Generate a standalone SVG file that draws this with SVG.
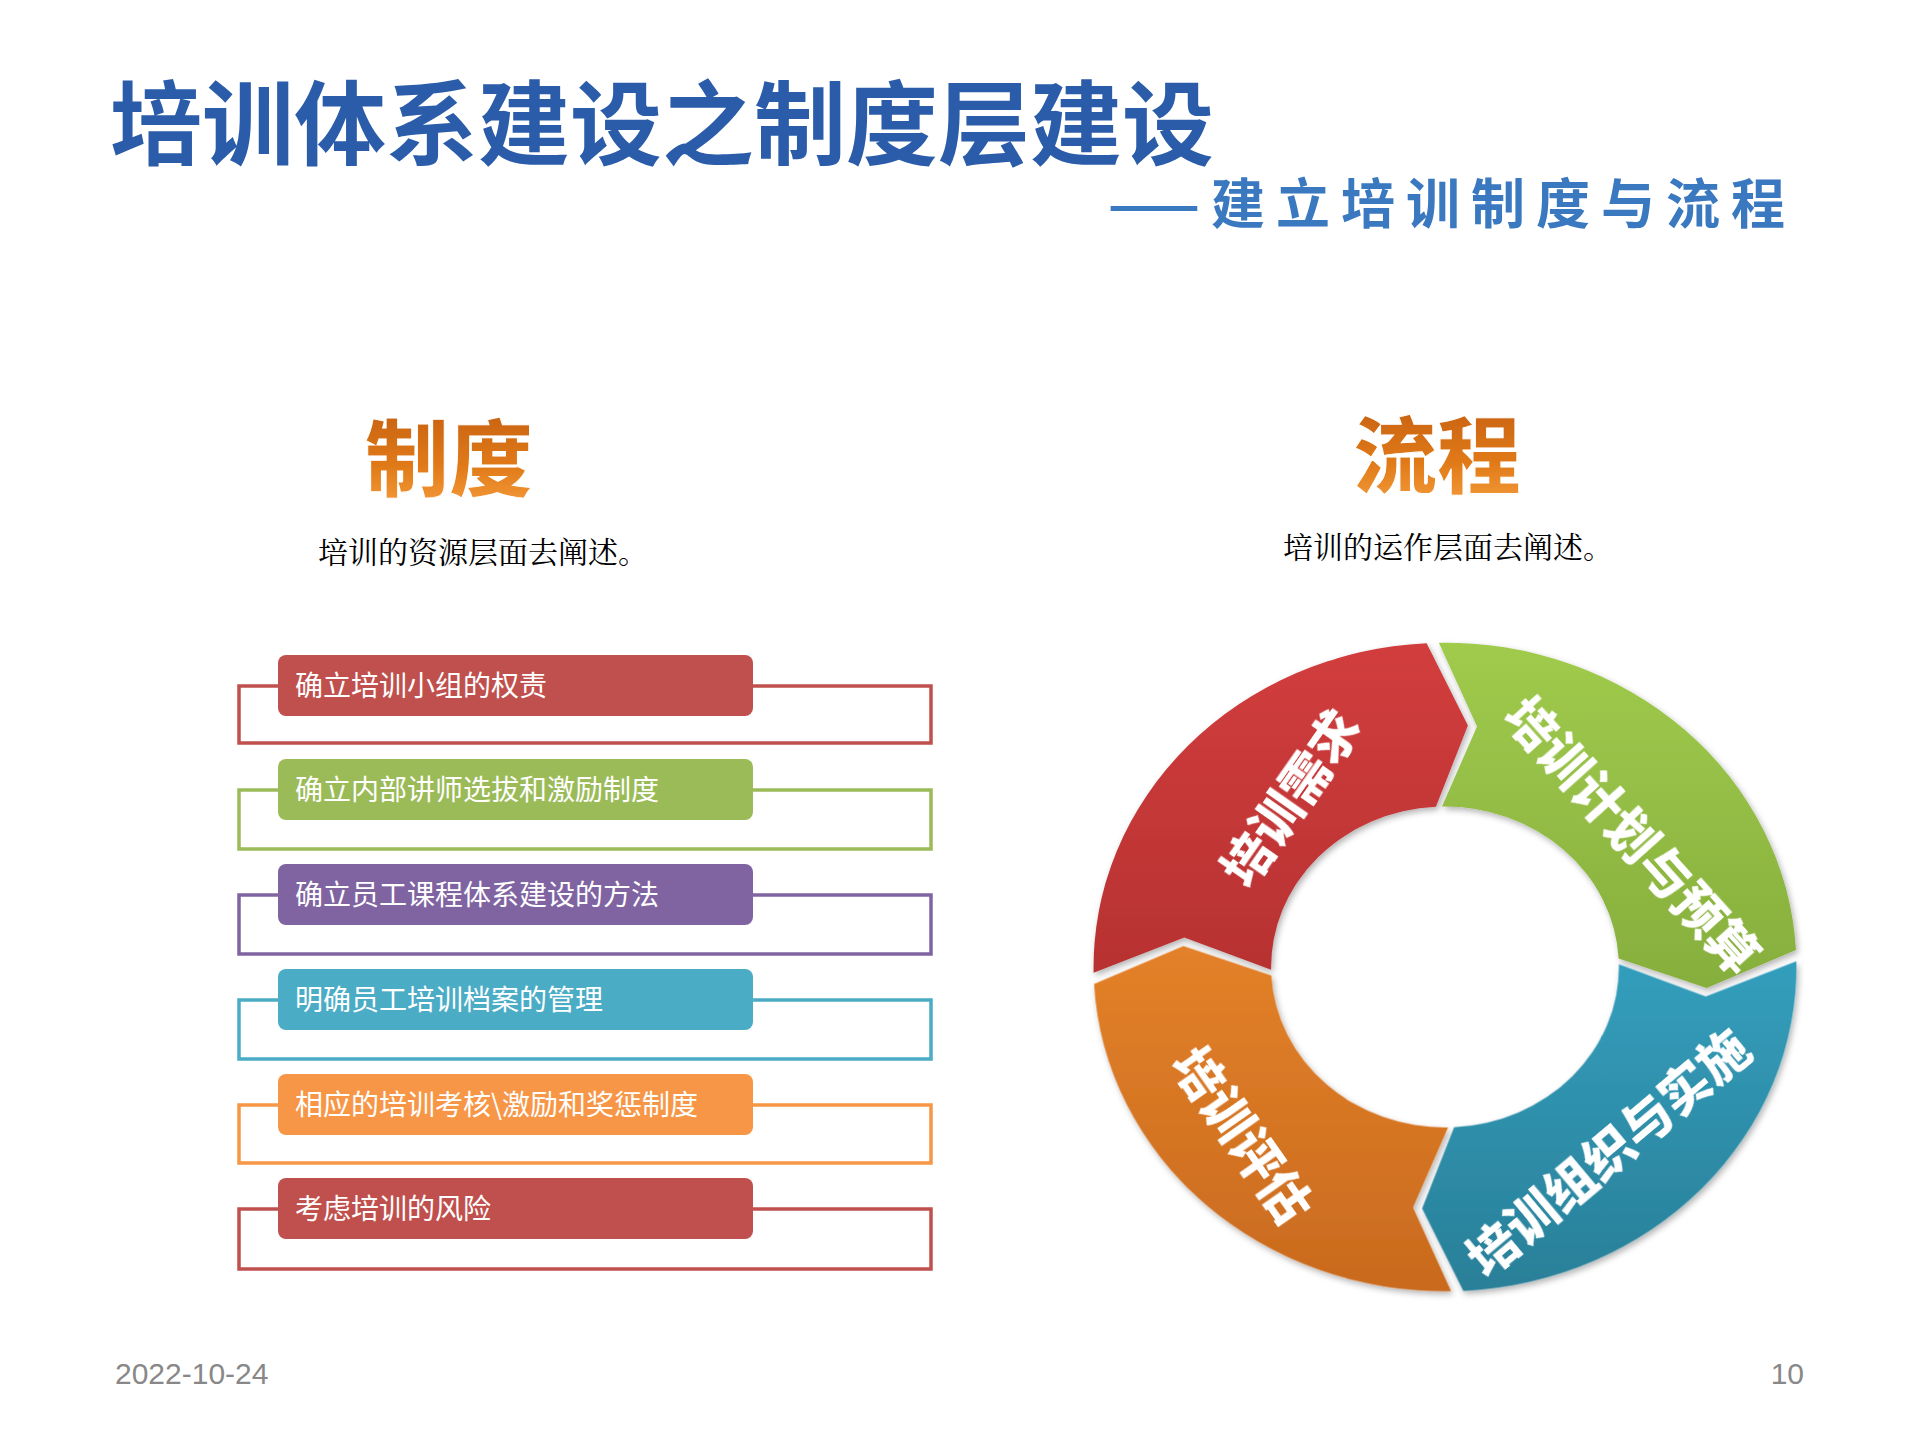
<svg xmlns="http://www.w3.org/2000/svg" width="1920" height="1440" viewBox="0 0 1920 1440">
<defs>
<linearGradient id="gR" gradientUnits="userSpaceOnUse" x1="0" y1="-290" x2="0" y2="290" gradientTransform="rotate(-178)"><stop offset="0" stop-color="#d23d3d"/><stop offset="0.5" stop-color="#b83232"/><stop offset="1" stop-color="#9a2626"/></linearGradient>
<linearGradient id="gG" gradientUnits="userSpaceOnUse" x1="0" y1="-290" x2="0" y2="290" gradientTransform="rotate(-268)"><stop offset="0" stop-color="#a0cb4c"/><stop offset="1" stop-color="#6f9530"/></linearGradient>
<linearGradient id="gB" gradientUnits="userSpaceOnUse" x1="0" y1="-290" x2="0" y2="290" gradientTransform="rotate(-358)"><stop offset="0" stop-color="#3cbde0"/><stop offset="1" stop-color="#2a7f98"/></linearGradient>
<linearGradient id="gO" gradientUnits="userSpaceOnUse" x1="0" y1="-290" x2="0" y2="290" gradientTransform="rotate(-88)"><stop offset="0" stop-color="#fb9634"/><stop offset="1" stop-color="#c96a1e"/></linearGradient>
<linearGradient id="gT" x1="0" y1="0" x2="0" y2="1"><stop offset="0" stop-color="#c05a10"/><stop offset="0.6" stop-color="#e07a18"/><stop offset="1" stop-color="#f8a040"/></linearGradient>
<path id="seg" d="M 286.96 5.01 A 287 287 0 0 1 5.01 286.96 L -26.14 212.90 L 2.48 141.98 A 142 142 0 0 0 141.98 2.48 L 211.86 33.56 Z"/>
<filter id="sh" x="-10%" y="-10%" width="120%" height="120%"><feDropShadow dx="2" dy="3" stdDeviation="3" flood-color="#000" flood-opacity="0.3"/></filter>
</defs>
<style>
.title{font-family:"Noto Sans CJK SC",sans-serif;font-weight:bold;fill:#2a5caa;stroke:#ffffff;stroke-width:3;paint-order:stroke;}
.head{font-family:"Noto Sans CJK SC",sans-serif;font-weight:900;font-size:84px;fill:url(#gT);stroke:#fff;stroke-width:1;}
.desc{font-family:"Noto Serif CJK SC","Noto Sans CJK SC",serif;font-size:30px;fill:#000;}
.pill{stroke:none;}
.ptxt{font-family:"Noto Sans CJK SC",sans-serif;font-size:28px;fill:#fff;}
.br{fill:none;stroke-width:3.5;}
.wt{font-family:"Noto Sans CJK SC",sans-serif;font-weight:900;font-size:50px;fill:#fff;text-anchor:middle;dominant-baseline:central;}
.foot{font-family:"Liberation Sans",Arial,sans-serif;font-size:30px;fill:#888;}
</style>
<rect width="1920" height="1440" fill="#fff"/>
<text class="title" x="110" y="158" font-size="92" style="stroke-width:5">培训体系建设之制度层建设</text>
<text class="title" x="1108" y="224" font-size="54" textLength="677" style="fill:#3a78c0">——建立培训制度与流程</text>
<text class="head" x="365" y="490">制度</text>
<text class="head" x="1353" y="487">流程</text>
<text class="desc" x="318" y="563">培训的资源层面去阐述。</text>
<text class="desc" x="1283" y="558">培训的运作层面去阐述。</text>

<g id="list-1"><path class="br" stroke="#c0504d" d="M278 686 H239 V743 H931 V686 H753"/><rect class="pill" x="278" y="655" width="475" height="61" rx="8" fill="#c0504d"/><text class="ptxt" x="295" y="696">确立培训小组的权责</text></g>
<g id="list-2"><path class="br" stroke="#9bbb59" d="M278 790 H239 V849 H931 V790 H753"/><rect class="pill" x="278" y="759" width="475" height="61" rx="8" fill="#9bbb59"/><text class="ptxt" x="295" y="800">确立内部讲师选拔和激励制度</text></g>
<g id="list-3"><path class="br" stroke="#8064a2" d="M278 895 H239 V954 H931 V895 H753"/><rect class="pill" x="278" y="864" width="475" height="61" rx="8" fill="#8064a2"/><text class="ptxt" x="295" y="905">确立员工课程体系建设的方法</text></g>
<g id="list-4"><path class="br" stroke="#4bacc6" d="M278 1000 H239 V1059 H931 V1000 H753"/><rect class="pill" x="278" y="969" width="475" height="61" rx="8" fill="#4bacc6"/><text class="ptxt" x="295" y="1010">明确员工培训档案的管理</text></g>
<g id="list-5"><path class="br" stroke="#f79646" d="M278 1105 H239 V1163 H931 V1105 H753"/><rect class="pill" x="278" y="1074" width="475" height="61" rx="8" fill="#f79646"/><text class="ptxt" x="295" y="1115">相应的培训考核\激励和奖惩制度</text></g>
<g id="list-6"><path class="br" stroke="#c0504d" d="M278 1209 H239 V1269 H931 V1209 H753"/><rect class="pill" x="278" y="1178" width="475" height="61" rx="8" fill="#c0504d"/><text class="ptxt" x="295" y="1219">考虑培训的风险</text></g>

<g id="wheel" filter="url(#sh)">
<g transform="translate(1445,967) scale(1.2245,1.13)">
<g id="seg-need"><use href="#seg" transform="rotate(178)" fill="url(#gR)"/></g>
<g id="seg-plan"><use href="#seg" transform="rotate(268)" fill="url(#gG)"/></g>
<g id="seg-impl"><use href="#seg" transform="rotate(358)" fill="url(#gB)"/></g>
<g id="seg-eval"><use href="#seg" transform="rotate(88)" fill="url(#gO)"/></g>
</g>
</g>
<text class="wt" transform="translate(1288,796) rotate(-55)">培训需求</text>
<text class="wt" transform="translate(1635,833) rotate(48)">培训计划与预算</text>
<text class="wt" transform="translate(1606,1150) rotate(-40)">培训组织与实施</text>
<text class="wt" transform="translate(1245,1133) rotate(55)">培训评估</text>

<text class="foot" x="115" y="1384">2022-10-24</text>
<text class="foot" x="1804" y="1384" text-anchor="end">10</text>
</svg>
